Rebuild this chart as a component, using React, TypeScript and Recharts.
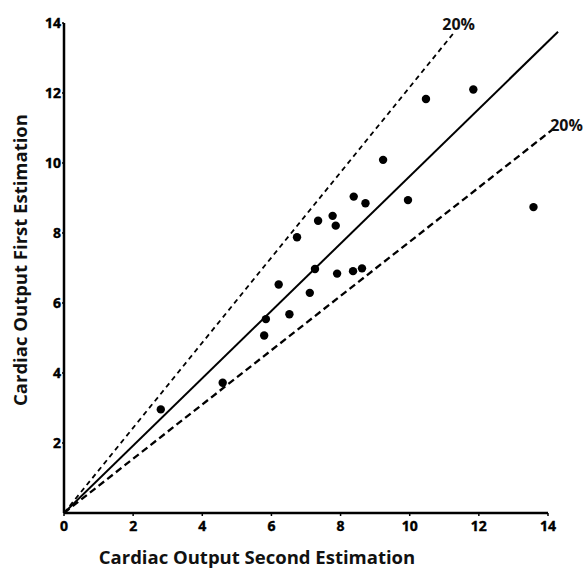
import { ReferenceDot, ReferenceLine, Scatter, ScatterChart, XAxis, YAxis } from "recharts";

// cardiac output: second estimation (x) vs first estimation (y), l/min
const secondEstimation = [
  2.8, 4.59, 5.79, 5.84, 6.21, 6.52, 6.74, 7.11, 7.26, 7.35, 7.77,
  7.86, 7.9, 8.36, 8.38, 8.62, 8.72, 9.23, 9.95, 10.47, 11.84, 13.58,
];
const firstEstimation = [
  2.96, 3.72, 5.07, 5.54, 6.53, 5.68, 7.88, 6.29, 6.97, 8.35, 8.49,
  8.21, 6.84, 6.91, 9.04, 6.99, 8.85, 10.09, 8.94, 11.83, 12.1, 8.74,
];

const ticks = [0, 2, 4, 6, 8, 10, 12, 14];

// line of agreement and the two 20% limits, as drawn
const agreementLine = [
  { x: 0, y: 0 },
  { x: 14.29, y: 13.75 },
];
const upperLimit = [
  { x: 0, y: 0 },
  { x: 11.3, y: 13.75 },
];
const lowerLimit = [
  { x: 0, y: 0 },
  { x: 14.19, y: 11.0 },
];

const points = secondEstimation.map((x, i) => ({ x, y: firstEstimation[i] }));

const font = "'Open Sans', 'DejaVu Sans', sans-serif";
const titleStyle = { fontSize: 18.5, fontWeight: 700, fill: "#111", fontFamily: font };
const noteStyle = { fontSize: 16, fontWeight: 700, fill: "#111", fontFamily: font };

const seg = (line: { x: number; y: number }[]) =>
  line.map((p) => ({ x: p.x, y: p.y })) as [{ x: number; y: number }, { x: number; y: number }];

const XTick = (p: any) => (
  <text
    x={p.x}
    y={p.y + 11}
    textAnchor="middle"
    fontSize={14}
    fontWeight={700}
    fontFamily={font}
    fill="#000"
    stroke="#000"
    strokeWidth={0.4}
  >
    {p.payload.value}
  </text>
);
const YTick = (p: any) => (
  <text
    x={p.x}
    y={p.y + 5}
    textAnchor="end"
    fontSize={14}
    fontWeight={700}
    fontFamily={font}
    fill="#000"
    stroke="#000"
    strokeWidth={0.4}
  >
    {p.payload.value}
  </text>
);

export default function App() {
  return (
    <div style={{ position: "absolute", left: 0, top: 0, background: "#fff" }}>
      <ScatterChart width={583} height={571} margin={{ top: 23, right: 35, bottom: 28, left: 24 }}>
        <XAxis
          type="number"
          dataKey="x"
          domain={[0, 14]}
          ticks={ticks}
          interval={0}
          height={30}
          tick={<XTick />}
          tickSize={3}
          tickMargin={4}
          axisLine={{ stroke: "#000", strokeWidth: 2.5 }}
          tickLine={{ stroke: "#000", strokeWidth: 1.5 }}
          label={{
            value: "Cardiac Output Second Estimation",
            position: "center",
            dx: -49,
            dy: 29,
            style: titleStyle,
          }}
        />
        <YAxis
          type="number"
          dataKey="y"
          domain={[0, 14]}
          ticks={ticks.slice(1)}
          interval={0}
          width={40}
          tick={<YTick />}
          tickSize={2}
          tickMargin={1}
          axisLine={{ stroke: "#000", strokeWidth: 2.5 }}
          tickLine={{ stroke: "#000", strokeWidth: 1.5 }}
          label={{
            value: "Cardiac Output First Estimation",
            position: "center",
            angle: -90,
            dx: -24,
            dy: -8,
            style: titleStyle,
          }}
        />
        <ReferenceLine segment={seg(agreementLine)} stroke="#000" strokeWidth={2} ifOverflow="visible" />
        <ReferenceLine
          segment={seg(upperLimit)}
          stroke="#000"
          strokeWidth={1.8}
          strokeDasharray="5 4"
          ifOverflow="visible"
        />
        <ReferenceLine
          segment={seg(lowerLimit)}
          stroke="#000"
          strokeWidth={2.3}
          strokeDasharray="7 4"
          ifOverflow="visible"
        />
        <ReferenceDot
          x={upperLimit[1].x}
          y={upperLimit[1].y}
          r={0}
          stroke="none"
          ifOverflow="visible"
          label={{ value: "20%", position: "top", dx: 4, offset: 2, style: noteStyle }}
        />
        <ReferenceDot
          x={lowerLimit[1].x}
          y={lowerLimit[1].y}
          r={0}
          stroke="none"
          ifOverflow="visible"
          label={{ value: "20%", position: "top", dx: 12, offset: -3, style: noteStyle }}
        />
        <Scatter
          data={points}
          fill="#000"
          isAnimationActive={false}
          shape={(p: any) => <circle cx={p.cx} cy={p.cy} r={4.2} fill="#000" />}
        />
      </ScatterChart>
    </div>
  );
}
